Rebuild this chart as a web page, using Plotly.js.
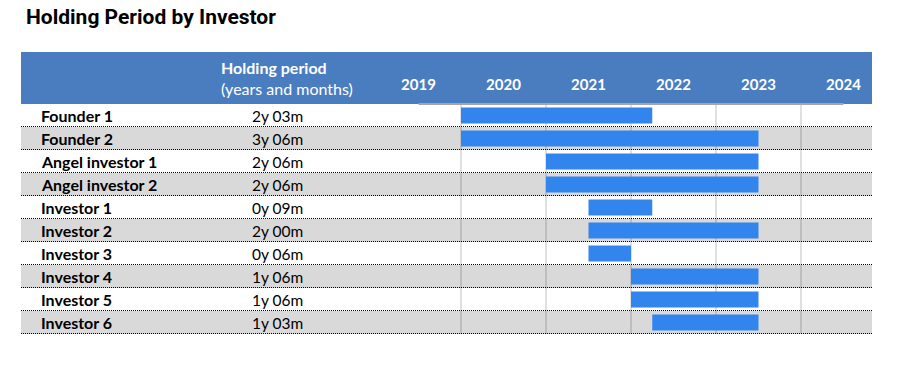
<!DOCTYPE html>
<html>
<head>
<meta charset="utf-8">
<script src="https://cdn.plot.ly/plotly-3.0.1.min.js"></script>
<style>html,body{margin:0;padding:0;background:#fff;}#chart{width:901px;height:371px;}</style>
</head>
<body>
<div id="chart"></div>
<script>
// ---- Data ----
var investors = ["Founder 1", "Founder 2", "Angel investor 1", "Angel investor 2", "Investor 1", "Investor 2", "Investor 3", "Investor 4", "Investor 5", "Investor 6"];
var holdingText = ["2y 03m", "3y 06m", "2y 06m", "2y 06m", "0y 09m", "2y 00m", "0y 06m", "1y 06m", "1y 06m", "1y 03m"];
var startYear = [2020.0, 2020.0, 2021.0, 2021.0, 2021.5, 2021.5, 2021.5, 2022.0, 2022.0, 2022.25];
var durationYears = [2.25, 3.5, 2.5, 2.5, 0.75, 2.0, 0.5, 1.5, 1.5, 1.25];
var gridYears = [2020, 2021, 2022, 2023, 2024];
var yearLabels = ["2019", "2020", "2021", "2022", "2023", "2024"];
var yearLabelPos = [2019.5, 2020.5, 2021.5, 2022.5, 2023.5, 2024.5];

// ---- Styles ----
var FONT = "Lato, 'Open Sans', sans-serif";
var HEADER = "#4a7dbf";
var BAR = "#3385ee";
var BAND = "#d9d9d9";
var HALFPX = 0.5 / 23;

var traces = [
  {
    type: "bar", orientation: "h",
    y: investors, x: durationYears, base: startYear,
    marker: {color: BAR, line: {width: 0}},
    width: 0.7, hoverinfo: "skip", showlegend: false
  },
  {
    type: "scatter", mode: "markers", xaxis: "x2", yaxis: "y",
    x: yearLabelPos, y: yearLabelPos.map(function(){return investors[0];}),
    marker: {opacity: 0}, hoverinfo: "skip", showlegend: false
  }
];

var shapes = [];
var annotations = [];

// header band
shapes.push({type: "rect", xref: "paper", yref: "paper", x0: 0, x1: 1, y0: 1, y1: 1 + 52/230,
  fillcolor: HEADER, line: {width: 0}, layer: "below"});

investors.forEach(function(name, i) {
  if (i % 2 === 1) {
    shapes.push({type: "rect", xref: "paper", yref: "y", x0: 0, x1: 1, y0: i - 0.5, y1: i + 0.5,
      fillcolor: BAND, line: {width: 0}, layer: "below"});
  }
  shapes.push({type: "line", xref: "paper", yref: "y", x0: 0, x1: 1, y0: i + 0.5 - HALFPX, y1: i + 0.5 - HALFPX,
    line: {color: "#000", width: 1, dash: "1px,1px"}, layer: "above"});
  annotations.push({xref: "paper", yref: "y", x: 18/851, y: name, xanchor: "left", yanchor: "middle",
    text: "<b>" + name + "</b>", showarrow: false, font: {family: FONT, size: 16, color: "#000"}});
  annotations.push({xref: "paper", yref: "y", x: 256/851, y: name, xanchor: "center", yanchor: "middle",
    text: holdingText[i], showarrow: false, font: {family: FONT, size: 15.5, color: "#000"}});
});

// line under header timeline
shapes.push({type: "line", xref: "x", yref: "paper", x0: yearLabelPos[0], x1: yearLabelPos[yearLabelPos.length-1], y0: 1, y1: 1,
  line: {color: "#a6a6a6", width: 2}, layer: "above"});

annotations.push({xref: "paper", yref: "paper", x: 198/851, y: 1 + 37/230, xanchor: "left", yanchor: "middle",
  text: "<b>Holding period</b>", showarrow: false, font: {family: FONT, size: 16, color: "#fff"}});
annotations.push({xref: "paper", yref: "paper", x: 198/851, y: 1 + 15/230, xanchor: "left", yanchor: "middle",
  text: "(years and months)", showarrow: false, font: {family: FONT, size: 16, color: "#fff"}});

var layout = {
  width: 901, height: 371,
  margin: {l: 21, r: 29, t: 104, b: 37, pad: 0},
  paper_bgcolor: "#fff", plot_bgcolor: "rgba(0,0,0,0)",
  title: {text: "Holding Period by Investor", xref: "container", yref: "container", x: 26/901, xanchor: "left",
    y: 1 - 17/371, yanchor: "middle", font: {family: "Roboto, sans-serif", size: 21, weight: 700, color: "#000"}},
  xaxis: {domain: [355/851, 1], range: [2019, 2019 + 496/85], tickvals: gridYears, showticklabels: false,
    showgrid: true, gridcolor: "rgba(0,0,0,0.12)", gridwidth: 2.5, zeroline: false, showline: false, ticks: "", fixedrange: true},
  xaxis2: {overlaying: "x", matches: "x", side: "top", anchor: "y", tickvals: yearLabelPos, ticktext: yearLabels,
    showgrid: false, zeroline: false, showline: false, ticks: "", ticklabelstandoff: 10,
    tickfont: {family: FONT, size: 15, weight: "bold", color: "#fff"}},
  yaxis: {type: "category", categoryorder: "array", categoryarray: investors, range: [9.5, -0.5], autorange: false,
    showticklabels: false, showgrid: false, zeroline: false, showline: false, ticks: "", fixedrange: true},
  bargap: 0.3,
  shapes: shapes, annotations: annotations, showlegend: false
};

Plotly.newPlot("chart", traces, layout, {displayModeBar: false, staticPlot: true});
</script>
</body>
</html>
